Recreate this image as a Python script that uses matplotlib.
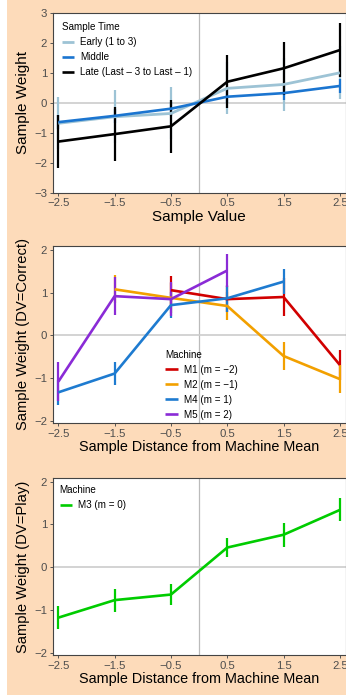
import matplotlib
matplotlib.use('Agg')
import matplotlib.pyplot as plt
from matplotlib.patches import Rectangle

plt.rcParams['font.family'] = ['Liberation Sans', 'DejaVu Sans']

# x positions shared by all panels
xs = [-2.5, -1.5, -0.5, 0.5, 1.5, 2.5]
xticks = [-2.5, -1.5, -0.5, 0.5, 1.5, 2.5]

# panel 1: sample time
time_names = ['Early (1 to 3)', 'Middle', 'Late (Last \u2013 3 to Last \u2013 1)']
early = [-0.68, -0.46, -0.35, 0.49, 0.62, 1.01]
early_err = [0.87, 0.89, 0.87, 0.87, 0.88, 0.88]
middle = [-0.64, -0.43, -0.19, 0.21, 0.33, 0.57]
middle_err = [0.24, 0.24, 0.23, 0.22, 0.23, 0.22]
late = [-1.29, -1.04, -0.78, 0.71, 1.16, 1.77]
late_err = [0.89, 0.90, 0.89, 0.89, 0.89, 0.89]

# panel 2: machines, DV = correct
m1_x = [-0.5, 0.5, 1.5, 2.5]
m1 = [1.06, 0.85, 0.90, -0.69]
m1_err = [0.33, 0.30, 0.45, 0.36]
m2_x = [-1.5, -0.5, 0.5, 1.5, 2.5]
m2 = [1.08, 0.88, 0.69, -0.48, -1.02]
m2_err = [0.33, 0.35, 0.32, 0.33, 0.32]
m4_x = [-2.5, -1.5, -0.5, 0.5, 1.5]
m4 = [-1.33, -0.89, 0.71, 0.87, 1.26]
m4_err = [0.30, 0.27, 0.31, 0.31, 0.30]
m5_x = [-2.5, -1.5, -0.5, 0.5]
m5 = [-1.08, 0.92, 0.85, 1.52]
m5_err = [0.45, 0.45, 0.40, 0.39]

# panel 3: machine M3, DV = play
m3 = [-1.18, -0.77, -0.64, 0.46, 0.76, 1.34]
m3_err = [0.27, 0.27, 0.25, 0.22, 0.28, 0.27]

peach = '#FDDBBA'
W, H = 346, 695
fig = plt.figure(figsize=(W / 100, H / 100), dpi=100, facecolor=peach)
fig.patches.append(Rectangle((0, 0), 7 / W, 1, transform=fig.transFigure,
                             facecolor='white', edgecolor='none', zorder=0))


def make_ax(top_px, bot_px, ylim):
    left = 52.7 / W
    width = 292.8 / W
    ax = fig.add_axes([left, (H - bot_px) / H, width, (bot_px - top_px) / H])
    ax.set_facecolor('white')
    ax.set_xlim(-2.6, 2.6)
    ax.set_ylim(*ylim)
    ax.set_xticks(xticks)
    ax.set_xticklabels(['\u22122.5', '\u22121.5', '\u22120.5', '0.5', '1.5', '2.5'])
    ax.axvline(0, color='#BBBBBB', lw=0.9, zorder=1)
    ax.axhline(0, color='#CCCCCC', lw=1.2, zorder=1)
    for s in ax.spines.values():
        s.set_color('#444444')
        s.set_linewidth(0.8)
    ax.tick_params(direction='out', length=2.5, width=0.7, color='#555555',
                   labelcolor='#4D4D4D', labelsize=8.2, pad=1.5)
    return ax


def series(ax, x, y, err, color, label, lw=1.9):
    ax.errorbar(x, y, yerr=err, fmt='none', ecolor=color, elinewidth=1.6,
                capsize=0, zorder=2)
    ax.plot(x, y, color=color, lw=lw, label=label, zorder=3,
            solid_capstyle='butt')


def add_legend(ax, title, anchor, pad):
    leg = ax.legend(title=title, loc='upper left', frameon=False,
                    fontsize=7.1, title_fontsize=7.1, handlelength=1.3,
                    handletextpad=0.6, labelspacing=0.5,
                    bbox_to_anchor=anchor, borderaxespad=pad)
    leg._legend_box.align = 'left'
    return leg


# ---- panel 1
ax1 = make_ax(13.3, 192.7, (-3, 3))
ax1.set_yticks([-3, -2, -1, 0, 1, 2, 3])
ax1.set_yticklabels(['\u22123', '\u22122', '\u22121', '0', '1', '2', '3'])
series(ax1, xs, early, early_err, '#9DC3D5', time_names[0], lw=2.0)
series(ax1, xs, middle, middle_err, '#1B75D0', time_names[1])
series(ax1, xs, late, late_err, '#000000', time_names[2])
ax1.set_xlabel('Sample Value', fontsize=11, labelpad=1)
ax1.set_ylabel('Sample Weight', fontsize=11, labelpad=3)
add_legend(ax1, 'Sample Time', (0.0, 1.0), 0.5)

# ---- panel 2
ax2 = make_ax(245.7, 423.3, (-2.054, 2.10))
ax2.set_yticks([-2, -1, 0, 1, 2])
ax2.set_yticklabels(['\u22122', '\u22121', '0', '1', '2'])
series(ax2, m1_x, m1, m1_err, '#D10000', 'M1 (m = \u22122)')
series(ax2, m2_x, m2, m2_err, '#F2A000', 'M2 (m = \u22121)')
series(ax2, m4_x, m4, m4_err, '#1E7BD0', 'M4 (m = 1)')
series(ax2, m5_x, m5, m5_err, '#8A2BD6', 'M5 (m = 2)')
ax2.set_xlabel('Sample Distance from Machine Mean', fontsize=10.4, labelpad=1)
ax2.set_ylabel('Sample Weight (DV=Correct)', fontsize=10.6, labelpad=3)
add_legend(ax2, 'Machine', (0.37, 0.435), 0.0)

# ---- panel 3
ax3 = make_ax(478.3, 655.0, (-2.054, 2.08))
ax3.set_yticks([-2, -1, 0, 1, 2])
ax3.set_yticklabels(['\u22122', '\u22121', '0', '1', '2'])
series(ax3, xs, m3, m3_err, '#00CC00', 'M3 (m = 0)')
ax3.set_xlabel('Sample Distance from Machine Mean', fontsize=10.4, labelpad=1)
ax3.set_ylabel('Sample Weight (DV=Play)', fontsize=10.6, labelpad=3)
add_legend(ax3, 'Machine', (0.0, 1.0), 0.3)

fig.savefig('out.png', dpi=100, facecolor=peach)
